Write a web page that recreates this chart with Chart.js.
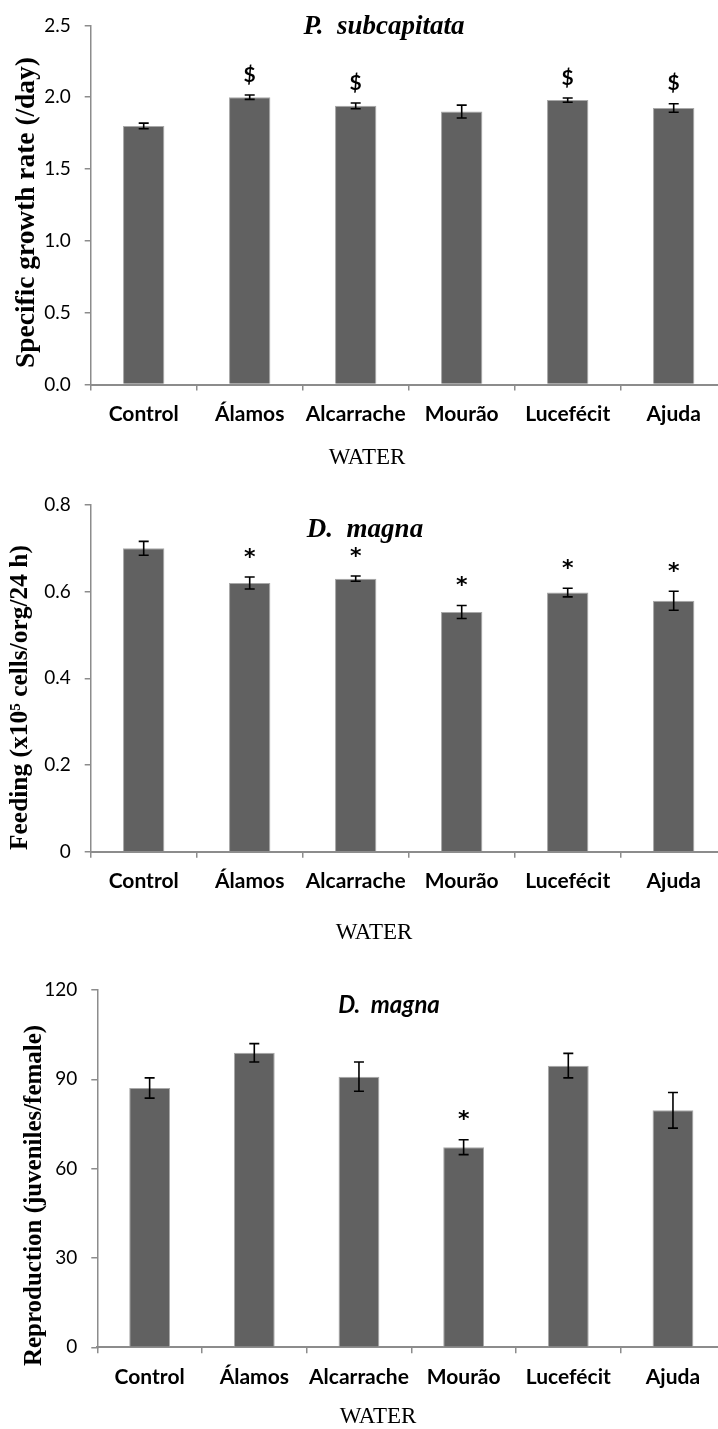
<!DOCTYPE html>
<html>
<head>
<meta charset="utf-8">
<script src="https://cdn.jsdelivr.net/npm/chart.js@4.4.1/dist/chart.umd.min.js"></script>
<style>
  html, body { margin: 0; padding: 0; background: #fff; overflow: hidden; width: 718px; height: 1429px; }
  canvas { position: absolute; left: 0; }
</style>
</head>
<body>
<canvas id="growthChart" width="740" height="470" style="top:0px"></canvas>
<canvas id="feedingChart" width="740" height="475" style="top:470px"></canvas>
<canvas id="reproChart" width="740" height="484" style="top:945px"></canvas>
<script>
const waters = ["Control", "Álamos", "Alcarrache", "Mourão", "Lucefécit", "Ajuda"];

// P. subcapitata growth rate (/day)
const growthRate = [1.80, 2.00, 1.94, 1.90, 1.98, 1.925];
const growthErr = [0.02, 0.015, 0.02, 0.045, 0.015, 0.03];
const growthMarks = ["", "$", "$", "", "$", "$"];

// D. magna feeding
const feeding = [0.70, 0.62, 0.63, 0.553, 0.598, 0.579];
const feedingErr = [0.016, 0.014, 0.006, 0.015, 0.01, 0.022];
const feedingMarks = ["", "*", "*", "*", "*", "*"];

// D. magna reproduction
const reproduction = [87.1, 98.9, 90.9, 67.2, 94.6, 79.6];
const reproductionErr = [3.4, 3.1, 4.9, 2.5, 4.1, 6.0];
const reproductionMarks = ["", "", "", "*", "", ""];

const AXIS_GREY = "#8c8c8c";

// error bars, significance marks, species label and the rotated y title
const extrasPlugin = {
  id: "extras",
  afterDatasetsDraw(chart, args, opts) {
    const ctx = chart.ctx;
    const meta = chart.getDatasetMeta(0);
    const y = chart.scales.y;
    const values = chart.data.datasets[0].data;
    ctx.save();
    ctx.strokeStyle = "#000";
    ctx.fillStyle = "#000";
    ctx.lineWidth = 1.6;
    meta.data.forEach((bar, i) => {
      const top = y.getPixelForValue(values[i] + opts.errors[i]);
      const bot = y.getPixelForValue(values[i] - opts.errors[i]);
      ctx.beginPath();
      ctx.moveTo(bar.x, top);
      ctx.lineTo(bar.x, bot);
      ctx.moveTo(bar.x - 5, top);
      ctx.lineTo(bar.x + 5, top);
      ctx.moveTo(bar.x - 5, bot);
      ctx.lineTo(bar.x + 5, bot);
      ctx.stroke();
      const mark = opts.marks[i];
      if (mark) {
        ctx.textAlign = "center";
        ctx.textBaseline = "middle";
        if (mark === "*") {
          ctx.font = "bold 22px 'DejaVu Sans'";
          ctx.fillText(mark, bar.x, top - 19);
        } else {
          ctx.font = "bold 21px Lato";
          ctx.fillText(mark, bar.x, top - 20);
        }
      }
    });
    ctx.font = opts.labelFont;
    ctx.textAlign = "center";
    ctx.textBaseline = "middle";
    ctx.fillText(opts.label, opts.labelX, opts.labelY);

    // y title: size chosen so the text runs the same length as the original
    ctx.font = "bold 20px 'Liberation Serif'";
    const size = (20 * opts.yTitleLength) / ctx.measureText(opts.yTitle).width;
    ctx.font = "bold " + size.toFixed(2) + "px 'Liberation Serif'";
    ctx.translate(opts.yTitleX, opts.yTitleY);
    ctx.rotate(-Math.PI / 2);
    ctx.fillText(opts.yTitle, 0, 0);
    ctx.restore();
  },
};

function plotBars(id, s) {
  const ctx = document.getElementById(id).getContext("2d");
  const canvasWidth = 740;

  const config = {
    type: "bar",
    data: {
      labels: waters,
      datasets: [
        {
          data: s.values,
          backgroundColor: "#616161",
          borderColor: "#a8a8a8",
          borderWidth: 1,
          barPercentage: 0.39,
          categoryPercentage: 1,
        },
      ],
    },
    options: {
      responsive: false,
      animation: false,
      layout: {
        // left padding only moves the centred "WATER" title; the y axis fills the rest
        padding: { left: s.padLeft, top: s.top, right: canvasWidth - s.right, bottom: 0.5 },
      },
      plugins: {
        legend: { display: false },
        tooltip: { enabled: false },
        title: {
          display: true,
          position: "bottom",
          text: "WATER",
          color: "#000",
          font: { family: "Liberation Serif", size: 23, weight: "normal", lineHeight: 1 },
          padding: { top: 0, bottom: 0 },
        },
        extras: {
          errors: s.errors,
          marks: s.marks,
          label: s.label,
          labelFont: s.labelFont,
          labelX: s.labelX,
          labelY: s.labelY,
          yTitle: s.yTitle,
          yTitleLength: s.yTitleLength,
          yTitleX: s.yTitleX,
          yTitleY: s.yTitleY,
        },
      },
      scales: {
        x: {
          ticks: {
            color: "#000",
            padding: 13.5,
            maxRotation: 0,
            minRotation: 0,
            autoSkip: false,
            font: { family: "Lato", size: 21, weight: "bold", lineHeight: 1 },
          },
          grid: { drawOnChartArea: false, tickLength: 6, color: AXIS_GREY, lineWidth: 1.5 },
          border: { color: AXIS_GREY, width: 2 },
          afterFit: (scale) => {
            scale.height = s.xHeight;
          },
        },
        y: {
          min: 0,
          max: s.yMax,
          ticks: {
            stepSize: s.step,
            color: "#000",
            padding: 14,
            font: { family: "Lato", size: 19 },
            callback: s.tickFormat,
          },
          grid: { drawOnChartArea: false, tickLength: 6, color: AXIS_GREY, lineWidth: 1.5 },
          border: { color: AXIS_GREY, width: 1.5 },
          afterFit: (scale) => {
            scale.width = s.left - s.padLeft;
          },
        },
      },
    },
    plugins: [extrasPlugin],
  };
  new Chart(ctx, config);
}

plotBars("growthChart", {
  values: growthRate,
  errors: growthErr,
  marks: growthMarks,
  yMax: 2.5,
  step: 0.5,
  tickFormat: (v) => v.toFixed(1),
  yTitle: "Specific growth rate (/day)",
  yTitleLength: 311,
  yTitleX: 27,
  yTitleY: 212.5,
  label: "P.  subcapitata",
  labelFont: "italic bold 27px 'Liberation Serif'",
  labelX: 384,
  labelY: 27,
  top: 16,
  left: 90.7,
  padLeft: 7.3,
  right: 726.7,
  xHeight: 62,
});

plotBars("feedingChart", {
  values: feeding,
  errors: feedingErr,
  marks: feedingMarks,
  yMax: 0.8,
  step: 0.2,
  tickFormat: (v) => (v === 0 ? "0" : v.toFixed(1)),
  yTitle: "Feeding (x10\u2075 cells/org/24 h)",
  yTitleLength: 305,
  yTitleX: 20,
  yTitleY: 227.5,
  label: "D.  magna",
  labelFont: "italic bold 27px 'Liberation Serif'",
  labelX: 365,
  labelY: 60,
  top: 35,
  left: 90.7,
  padLeft: 21.3,
  right: 726.7,
  xHeight: 69.8,
});

plotBars("reproChart", {
  values: reproduction,
  errors: reproductionErr,
  marks: reproductionMarks,
  yMax: 120,
  step: 30,
  tickFormat: (v) => v,
  yTitle: "Reproduction (juveniles/female)",
  yTitleLength: 341,
  yTitleX: 35,
  yTitleY: 250.5,
  label: "D.  magna",
  labelFont: "italic bold 24px Lato",
  labelX: 389,
  labelY: 60,
  top: 45,
  left: 97.3,
  padLeft: 30.7,
  right: 725.3,
  xHeight: 58.2,
});
</script>
</body>
</html>
